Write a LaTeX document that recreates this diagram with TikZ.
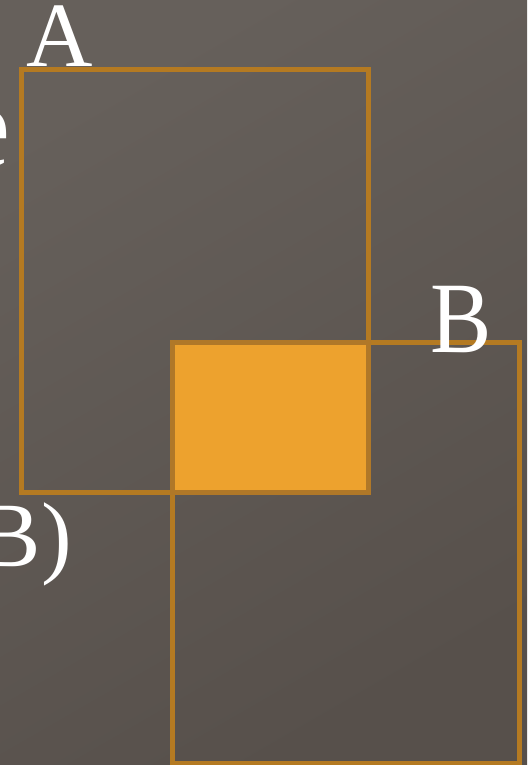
\documentclass[tikz,border=0pt]{standalone}
\usepackage{fontspec}
\setmainfont{Liberation Serif}
\definecolor{bgtl}{HTML}{66605B}
\definecolor{bgbr}{HTML}{57504B}
\definecolor{edge}{HTML}{B47A22}
\definecolor{edgedark}{HTML}{B07828}
\definecolor{fillor}{HTML}{EDA22E}
\tikzset{
  setbox/.style={draw=edge, line width=5pt, inner sep=0pt, outer sep=0pt, anchor=north west},
  lbl/.style={text=white, inner sep=0pt, font=\fontsize{92}{92}\selectfont},
}
\begin{document}
\begin{tikzpicture}[x=1pt,y=-1pt]
\shade[shading=axis, top color=bgtl, bottom color=bgbr, shading angle=30] (0,0) rectangle (527,765);
\useasboundingbox (0,0) rectangle (527,765);
\node[setbox, minimum width=347pt, minimum height=422pt] (A) at (21,70) {};
\node[setbox, minimum width=347pt, minimum height=421pt] (B) at (172.5,342) {};
\draw[draw=edgedark, fill=fillor, line width=5pt] (B.north west) rectangle (A.south east);
\node[lbl, anchor=base] (la) at (60,67) {A};
\node[lbl, anchor=base, yscale=1.1, transform shape] (lb) at (461,352) {B};
\node[lbl, anchor=base east] (lbp) at (72,566) {B)};
\node[lbl, anchor=base east, font=\fontsize{120}{120}\selectfont] (le) at (11,166) {e};
\end{tikzpicture}
\end{document}
